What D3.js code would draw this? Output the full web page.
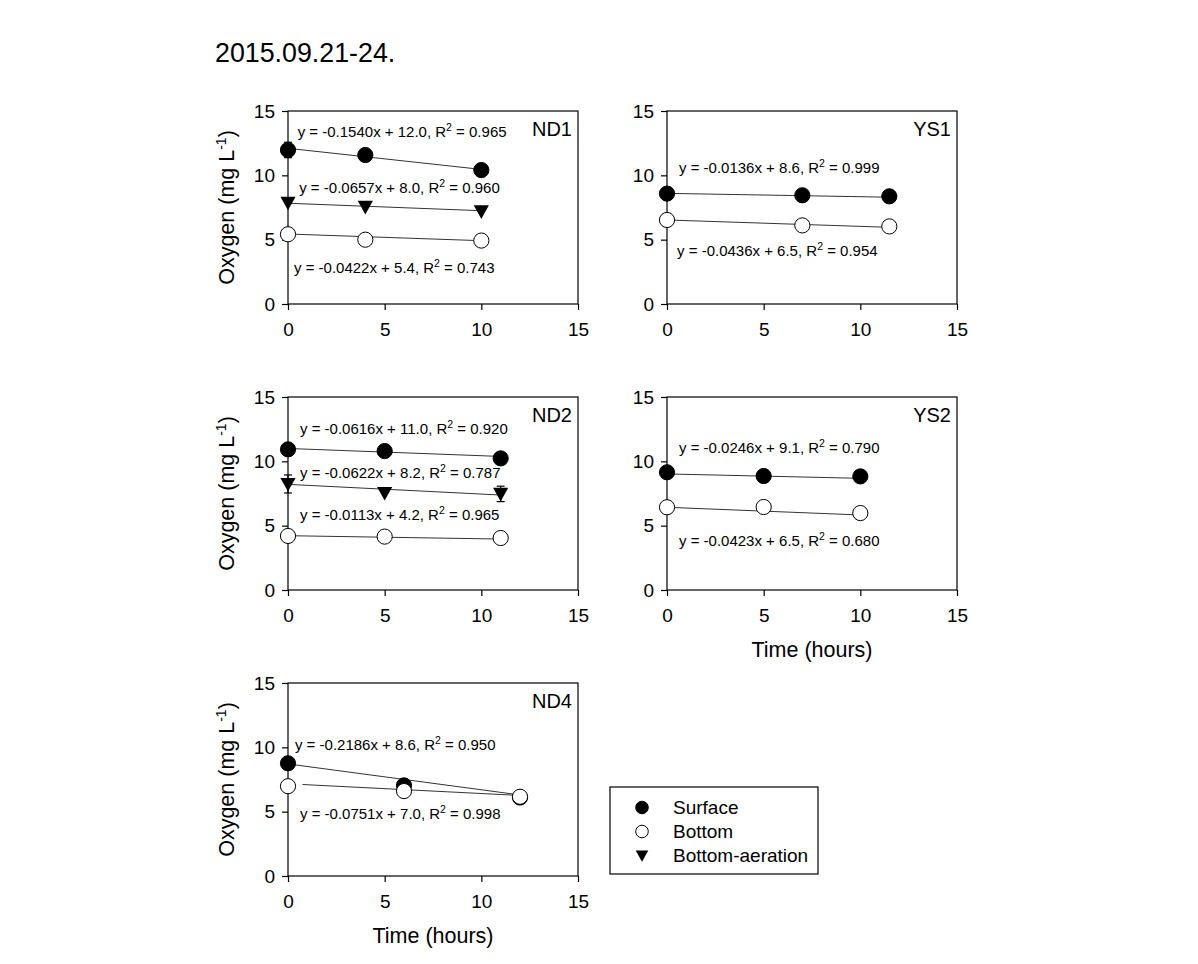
<!DOCTYPE html>
<meta charset="utf-8">
<head>
    <style>
        body, html {
            margin: 0;
            background: white;
        }
        svg text {
            font-family: "Liberation Sans", Arial, sans-serif;
            fill: black;
        }
        .axis path { display: none; }
        .axis line { stroke: black; stroke-width: 1.2; }
    </style>
    <script src="https://d3js.org/d3.v7.min.js"></script>
</head>
<body>
<svg id="chart" width="1198" height="964"></svg>

<script>
    var title = "2015.09.21-24.";
    var seriesNames = ["Surface", "Bottom", "Bottom-aeration"];
    var tickValues = [0, 5, 10, 15];

    // sampling times (hours)
    var hoursND1 = [0, 4, 10];
    var hoursYS1 = [0, 7, 11.5];
    var hoursND2 = [0, 5, 11];
    var hoursYS2 = [0, 5, 10];
    var hoursND4 = [0, 6, 12];

    // oxygen (mg/L): surface, bottom, bottom-aeration
    var surfaceND1 = [11.97, 11.58, 10.41];
    var bottomND1 = [5.42, 5.0, 4.93];
    var aerationND1 = [7.87, 7.55, 7.2];
    var surfaceYS1 = [8.58, 8.45, 8.37];
    var bottomYS1 = [6.53, 6.11, 6.03];
    var surfaceND2 = [10.93, 10.8, 10.23];
    var bottomND2 = [4.2, 4.15, 4.04];
    var aerationND2 = [8.24, 7.54, 7.47];
    var surfaceYS2 = [9.15, 8.86, 8.83];
    var bottomYS2 = [6.43, 6.45, 5.98];
    var surfaceND4 = [8.76, 7.04, 6.1];
    var bottomND4 = [6.98, 6.6, 6.16];

    // standard deviations where an error bar shows
    var surfaceErrND1 = [0.6, 0, 0];
    var aerationErrND2 = [0.7, 0, 0.6];

    // regression: slope, intercept, R2 (series order surface, bottom, aeration)
    var slopesND1 = [-0.1540, -0.0422, -0.0657];
    var interceptsND1 = [12.0, 5.4, 8.0];
    var r2ND1 = [0.965, 0.743, 0.960];
    var slopesYS1 = [-0.0136, -0.0436];
    var interceptsYS1 = [8.6, 6.5];
    var r2YS1 = [0.999, 0.954];
    var slopesND2 = [-0.0616, -0.0113, -0.0622];
    var interceptsND2 = [11.0, 4.2, 8.2];
    var r2ND2 = [0.920, 0.965, 0.787];
    var slopesYS2 = [-0.0246, -0.0423];
    var interceptsYS2 = [9.1, 6.5];
    var r2YS2 = [0.790, 0.680];
    var slopesND4 = [-0.2186, -0.0751];
    var interceptsND4 = [8.6, 7.0];
    var r2ND4 = [0.950, 0.998];

    // fitted line ends as drawn: [x0, y0, x1, y1]
    var linesND1 = [[0, 12.1, 10, 10.46], [0, 5.44, 10, 4.92], [0, 7.83, 10, 7.25]];
    var linesYS1 = [[0, 8.6, 11.5, 8.3], [0, 6.53, 11.5, 5.96]];
    var linesND2 = [[0, 11.0, 11, 10.38], [0, 4.22, 11, 3.96], [0, 8.21, 11, 7.38]];
    var linesYS2 = [[0, 9.02, 10, 8.68], [0, 6.43, 10, 5.83]];
    var linesND4 = [[0, 8.71, 12, 6.3], [0.75, 7.11, 12, 6.26]];

    // layout: equation anchors in data units
    var eqPosND1 = [[0.5, 12.98], [0.31, 2.43], [0.58, 8.63]];
    var eqPosYS1 = [[0.62, 10.16], [0.52, 3.75]];
    var eqPosND2 = [[0.62, 12.12], [0.62, 5.44], [0.62, 8.73]];
    var eqPosYS2 = [[0.62, 10.62], [0.62, 3.44]];
    var eqPosND4 = [[0.36, 9.82], [0.62, 4.41]];

    var panels = [
        {name: "ND1", col: 0, row: 0, hours: hoursND1, values: [surfaceND1, bottomND1, aerationND1],
            errors: [surfaceErrND1, null, null], slopes: slopesND1, intercepts: interceptsND1, r2: r2ND1,
            lines: linesND1, eqPos: eqPosND1, yTitle: true, xTitle: false},
        {name: "YS1", col: 1, row: 0, hours: hoursYS1, values: [surfaceYS1, bottomYS1],
            errors: [null, null], slopes: slopesYS1, intercepts: interceptsYS1, r2: r2YS1,
            lines: linesYS1, eqPos: eqPosYS1, yTitle: false, xTitle: false},
        {name: "ND2", col: 0, row: 1, hours: hoursND2, values: [surfaceND2, bottomND2, aerationND2],
            errors: [null, null, aerationErrND2], slopes: slopesND2, intercepts: interceptsND2, r2: r2ND2,
            lines: linesND2, eqPos: eqPosND2, yTitle: true, xTitle: false},
        {name: "YS2", col: 1, row: 1, hours: hoursYS2, values: [surfaceYS2, bottomYS2],
            errors: [null, null], slopes: slopesYS2, intercepts: interceptsYS2, r2: r2YS2,
            lines: linesYS2, eqPos: eqPosYS2, yTitle: false, xTitle: true},
        {name: "ND4", col: 0, row: 2, hours: hoursND4, values: [surfaceND4, bottomND4],
            errors: [null, null], slopes: slopesND4, intercepts: interceptsND4, r2: r2ND4,
            lines: linesND4, eqPos: eqPosND4, yTitle: true, xTitle: true}
    ];

    var panelW = 290, panelH = 193;
    var colX = [288, 667];
    var rowY = [111, 397, 683];

    var svg = d3.select("#chart");

    svg.append("text")
        .attr("x", 215)
        .attr("y", 62)
        .style("font-size", "26.8px")
        .text(title);

    function triangle(s) {
        return "M" + (-s) + "," + (-s * 0.8) + "L" + s + "," + (-s * 0.8) + "L0," + s + "Z";
    }

    function drawMarker(g, series, x, y, r) {
        if (series == 2) {
            g.append("path")
                .attr("d", triangle(r))
                .attr("transform", "translate(" + x + "," + y + ")")
                .attr("fill", "black");
        } else {
            g.append("circle")
                .attr("cx", x)
                .attr("cy", y)
                .attr("r", r)
                .attr("fill", series == 0 ? "black" : "white")
                .attr("stroke", "black")
                .attr("stroke-width", 1);
        }
    }

    panels.forEach(function (p) {
        var left = colX[p.col], top = rowY[p.row];
        var g = svg.append("g").attr("transform", "translate(" + left + "," + top + ")");

        var x = d3.scaleLinear().domain([0, 15]).range([0, panelW]);
        var y = d3.scaleLinear().domain([0, 15]).range([panelH, 0]);

        g.append("g")
            .attr("class", "axis")
            .call(d3.axisLeft(y).tickValues(tickValues).tickSize(6).tickPadding(7))
            .selectAll("text").style("font-size", "19px");

        g.append("g")
            .attr("class", "axis")
            .attr("transform", "translate(0," + panelH + ")")
            .call(d3.axisBottom(x).tickValues(tickValues).tickSize(6).tickPadding(13))
            .selectAll("text").style("font-size", "19px");

        g.append("rect")
            .attr("width", panelW)
            .attr("height", panelH)
            .attr("fill", "none")
            .attr("stroke", "black")
            .attr("stroke-width", 1.2);

        // regression lines
        g.selectAll(".fit")
            .data(p.lines)
            .enter()
            .append("line")
            .attr("class", "fit")
            .attr("x1", function (d) { return x(d[0]); })
            .attr("y1", function (d) { return y(d[1]); })
            .attr("x2", function (d) { return x(d[2]); })
            .attr("y2", function (d) { return y(d[3]); })
            .attr("stroke", "#333")
            .attr("stroke-width", 1);

        // error bars
        p.errors.forEach(function (errs, s) {
            if (!errs) return;
            errs.forEach(function (e, i) {
                if (!e) return;
                var cx = x(p.hours[i]), v = p.values[s][i];
                g.append("line")
                    .attr("x1", cx).attr("x2", cx)
                    .attr("y1", y(v - e)).attr("y2", y(v + e))
                    .attr("stroke", "black").attr("stroke-width", 1.2);
                [v - e, v + e].forEach(function (yy) {
                    g.append("line")
                        .attr("x1", cx - 4).attr("x2", cx + 4)
                        .attr("y1", y(yy)).attr("y2", y(yy))
                        .attr("stroke", "black").attr("stroke-width", 1.2);
                });
            });
        });

        // markers: surface, bottom, then aeration
        p.values.forEach(function (vals, s) {
            vals.forEach(function (v, i) {
                drawMarker(g, s, x(p.hours[i]), y(v), 7.6);
            });
        });

        // equations
        p.slopes.forEach(function (m, s) {
            var t = g.append("text")
                .attr("x", x(p.eqPos[s][0]))
                .attr("y", y(p.eqPos[s][1]))
                .style("font-size", "15px");
            t.append("tspan")
                .text("y = " + m.toFixed(4) + "x + " + p.intercepts[s].toFixed(1) + ", R");
            t.append("tspan")
                .attr("dy", -6)
                .style("font-size", "10.5px")
                .text("2");
            t.append("tspan")
                .attr("dy", 6)
                .text(" = " + p.r2[s].toFixed(3));
        });

        g.append("text")
            .attr("x", panelW - 6)
            .attr("y", 25)
            .attr("text-anchor", "end")
            .style("font-size", "20px")
            .text(p.name);

        if (p.yTitle) {
            var yt = g.append("text")
                .attr("transform", "translate(-54," + panelH / 2 + ") rotate(-90)")
                .attr("text-anchor", "middle")
                .style("font-size", "21.5px");
            yt.append("tspan").text("Oxygen (mg L");
            yt.append("tspan").attr("dy", -8).style("font-size", "14px").text("-1");
            yt.append("tspan").attr("dy", 8).text(")");
        }

        if (p.xTitle) {
            g.append("text")
                .attr("x", panelW / 2)
                .attr("y", panelH + 67)
                .attr("text-anchor", "middle")
                .style("font-size", "21.5px")
                .text("Time (hours)");
        }
    });

    // legend
    var legend = svg.append("g").attr("transform", "translate(610,787)");
    legend.append("rect")
        .attr("width", 208)
        .attr("height", 87)
        .attr("fill", "white")
        .attr("stroke", "black")
        .attr("stroke-width", 1.2);
    seriesNames.forEach(function (name, s) {
        var ly = 20.5 + s * 24;
        drawMarker(legend, s, 32, ly, 6.3);
        legend.append("text")
            .attr("x", 63)
            .attr("y", ly + 6.5)
            .style("font-size", "19px")
            .text(name);
    });
</script>
</body>
